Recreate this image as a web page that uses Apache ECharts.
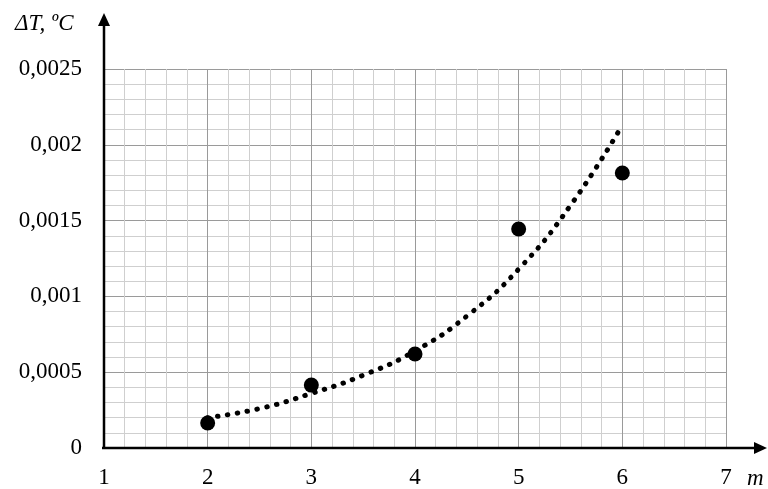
<!DOCTYPE html>
<html>
<head>
<meta charset="utf-8">
<script src="https://cdn.jsdelivr.net/npm/echarts@6/dist/echarts.min.js"></script>
<style>
html,body{margin:0;padding:0;background:#fff;}
#c{width:768px;height:489px;}
</style>
</head>
<body>
<div id="c"></div>
<script>
// Data
var pointsX = [2, 3, 4, 5, 6];
var pointsY = [0.000165, 0.000415, 0.00062, 0.001445, 0.001814];
// Dotted trend line
var trendX = [2, 2.5, 3, 3.5, 4, 4.5, 5, 5.5, 6];
var trendY = [0.0002, 0.00026, 0.00036, 0.00048, 0.00064, 0.00087, 0.00118, 0.0016, 0.00213];
var xTicks = [1, 2, 3, 4, 5, 6, 7];
var yTicks = ['0', '0,0005', '0,001', '0,0015', '0,002', '0,0025'];
var xTitle = 'm';
var yTitle = 'ΔT, ºC';

var FONT = '"Liberation Serif", "Times New Roman", serif';
var chart = echarts.init(document.getElementById('c'), null, {renderer: 'canvas'});

function zip(a, b) { return a.map(function (v, i) { return [v, b[i]]; }); }

var option = {
  animation: false,
  backgroundColor: '#fff',
  grid: {left: 104, right: 42, top: 69, bottom: 41, containLabel: false},
  xAxis: {
    type: 'value', min: 1, max: 7, interval: 1,
    axisLine: {show: false},
    axisTick: {show: false},
    axisLabel: {
      margin: 18, color: '#000', fontFamily: FONT, fontSize: 23,
      formatter: function (v) { return xTicks.indexOf(v) >= 0 ? String(v) : ''; }
    },
    splitLine: {show: true, lineStyle: {color: '#9a9a9a', width: 1}},
    minorTick: {show: false, splitNumber: 5},
    minorSplitLine: {show: true, lineStyle: {color: '#cfcfcf', width: 1}}
  },
  yAxis: {
    type: 'value', min: 0, max: 0.0025, interval: 0.0005,
    axisLine: {show: false},
    axisTick: {show: false},
    axisLabel: {
      margin: 22, color: '#000', fontFamily: FONT, fontSize: 23,
      formatter: function (v) { return yTicks[Math.round(v / 0.0005)]; }
    },
    splitLine: {show: true, lineStyle: {color: '#9a9a9a', width: 1}},
    minorTick: {show: false, splitNumber: 5},
    minorSplitLine: {show: true, lineStyle: {color: '#cfcfcf', width: 1}}
  },
  series: [
    {
      type: 'line', data: zip(trendX, trendY), smooth: true,
      showSymbol: false, symbol: 'none',
      lineStyle: {color: '#000', width: 5, type: [0.5, 9.5], cap: 'round', opacity: 1},
      z: 3
    },
    {
      type: 'scatter', data: zip(pointsX, pointsY),
      symbol: 'circle', symbolSize: 15,
      itemStyle: {color: '#000', opacity: 1},
      z: 4
    }
  ]
};
chart.setOption(option);

// Axes with arrows
var o = chart.convertToPixel({xAxisIndex: 0, yAxisIndex: 0}, [1, 0]);
var ax = o[0], ay = o[1];
var arrowX = 767, arrowY = 13;
chart.setOption({
  graphic: [
    {type: 'line', shape: {x1: ax - 2, y1: ay, x2: arrowX - 10, y2: ay}, style: {stroke: '#000', lineWidth: 2.5}, z: 10},
    {type: 'polygon', shape: {points: [[arrowX, ay], [arrowX - 13, ay - 6], [arrowX - 13, ay + 6]]}, style: {fill: '#000'}, z: 10},
    {type: 'line', shape: {x1: ax, y1: ay + 1, x2: ax, y2: arrowY + 10}, style: {stroke: '#000', lineWidth: 2.5}, z: 10},
    {type: 'polygon', shape: {points: [[ax, arrowY], [ax - 6, arrowY + 13], [ax + 6, arrowY + 13]]}, style: {fill: '#000'}, z: 10},
    {type: 'text', left: 15, top: 12, style: {text: yTitle, font: 'italic 23px ' + FONT, fill: '#000'}, z: 10},
    {type: 'text', left: 747, top: 467, style: {text: xTitle, font: 'italic 23px ' + FONT, fill: '#000'}, z: 10}
  ]
});
</script>
</body>
</html>
